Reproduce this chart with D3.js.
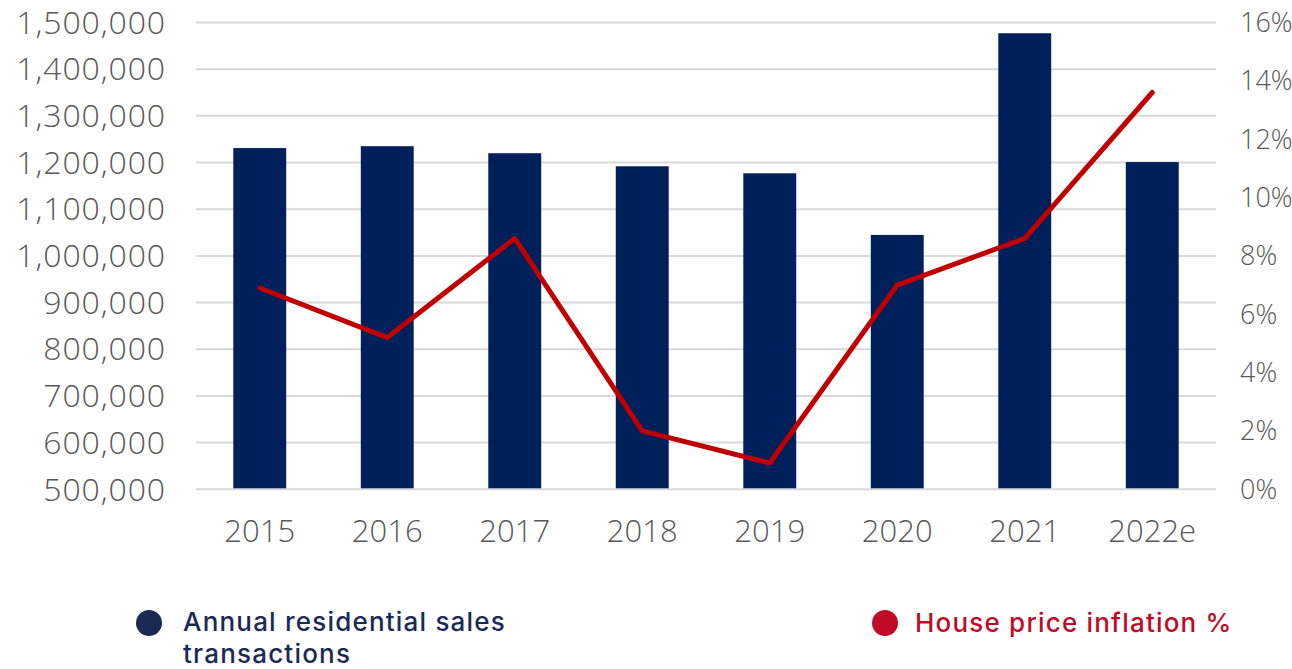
<!DOCTYPE html>
<html>
<head>
<meta charset="utf-8">
<script src="https://cdn.jsdelivr.net/npm/d3@7"></script>
<style>
  body { margin: 0; background: #fff; }
  .tick-label { font-family: "Open Sans", sans-serif; font-weight: 300; fill: #595959; }
  .legend-text { font-family: Inter, "Noto Sans", sans-serif; font-weight: 500; font-size: 26px; letter-spacing: 1.2px; }
</style>
</head>
<body>
<div id="chart-area"></div>
<script>
const years = ["2015", "2016", "2017", "2018", "2019", "2020", "2021", "2022e"];
const transactions = [1231000, 1235000, 1220000, 1192000, 1177000, 1045000, 1477000, 1201000];
const inflation = [6.9, 5.2, 8.6, 2.0, 0.9, 7.0, 8.6, 13.6];
const leftTicks = [500000, 600000, 700000, 800000, 900000, 1000000, 1100000, 1200000, 1300000, 1400000, 1500000];
const rightTicks = [0, 2, 4, 6, 8, 10, 12, 14, 16];

const W = 1292, H = 669;
const plot = { left: 196, right: 1216, top: 22.5, bottom: 489.3 };

const svg = d3.select("#chart-area")
  .append("svg")
  .attr("width", W)
  .attr("height", H);

const x = d3.scaleBand()
  .domain(years)
  .range([plot.left, plot.right])
  .padding(0);

const yLeft = d3.scaleLinear()
  .domain([500000, 1500000])
  .range([plot.bottom, plot.top]);

const yRight = d3.scaleLinear()
  .domain([0, 16])
  .range([plot.bottom, plot.top]);

// gridlines
svg.append("g")
  .selectAll("line")
  .data(leftTicks)
  .join("line")
  .attr("x1", plot.left)
  .attr("x2", plot.right)
  .attr("y1", d => yLeft(d))
  .attr("y2", d => yLeft(d))
  .attr("stroke", "#d9d9d9")
  .attr("stroke-width", 2);

// bars
const barW = x.bandwidth() * 0.415;
svg.append("g")
  .selectAll("rect")
  .data(years)
  .join("rect")
  .attr("x", d => x(d) + x.bandwidth() / 2 - barW / 2)
  .attr("y", (d, i) => yLeft(transactions[i]))
  .attr("width", barW)
  .attr("height", (d, i) => yLeft(500000) - yLeft(transactions[i]) - 1)
  .attr("fill", "#00205B");

// line
const line = d3.line()
  .x((d, i) => x(years[i]) + x.bandwidth() / 2)
  .y(d => yRight(d));

svg.append("path")
  .datum(inflation)
  .attr("d", line)
  .attr("fill", "none")
  .attr("stroke", "#C00000")
  .attr("stroke-width", 5)
  .attr("stroke-linejoin", "round")
  .attr("stroke-linecap", "round");

// left axis labels
const fmt = d3.format(",");
svg.append("g")
  .selectAll("text")
  .data(leftTicks)
  .join("text")
  .attr("class", "tick-label")
  .attr("x", 166)
  .attr("y", d => yLeft(d))
  .attr("dy", "0.35em")
  .attr("text-anchor", "end")
  .attr("font-size", 32)
  .attr("letter-spacing", 0.9)
  .text(d => fmt(d));

// right axis labels
svg.append("g")
  .selectAll("text")
  .data(rightTicks)
  .join("text")
  .attr("class", "tick-label")
  .attr("x", 1240)
  .attr("y", d => yRight(d))
  .attr("dy", "0.35em")
  .attr("text-anchor", "start")
  .attr("font-size", 27)
  .text(d => d + "%");

// x axis labels
svg.append("g")
  .selectAll("text")
  .data(years)
  .join("text")
  .attr("class", "tick-label")
  .attr("x", d => x(d) + x.bandwidth() / 2)
  .attr("y", 542)
  .attr("text-anchor", "middle")
  .attr("font-size", 31)
  .text(d => d);

// legend
const legend = svg.append("g");
legend.append("circle")
  .attr("cx", 149).attr("cy", 623).attr("r", 13)
  .attr("fill", "#1B2A55");
const salesLabel = legend.append("text")
  .attr("class", "legend-text")
  .attr("fill", "#1B2A55");
salesLabel.append("tspan")
  .attr("x", 183).attr("y", 631)
  .text("Annual residential sales");
salesLabel.append("tspan")
  .attr("x", 183).attr("y", 663)
  .text("transactions");

legend.append("circle")
  .attr("cx", 885).attr("cy", 623).attr("r", 13)
  .attr("fill", "#C10A27");
legend.append("text")
  .attr("class", "legend-text")
  .attr("x", 915).attr("y", 632)
  .attr("fill", "#C10A27")
  .text("House price inflation %");
</script>
</body>
</html>
